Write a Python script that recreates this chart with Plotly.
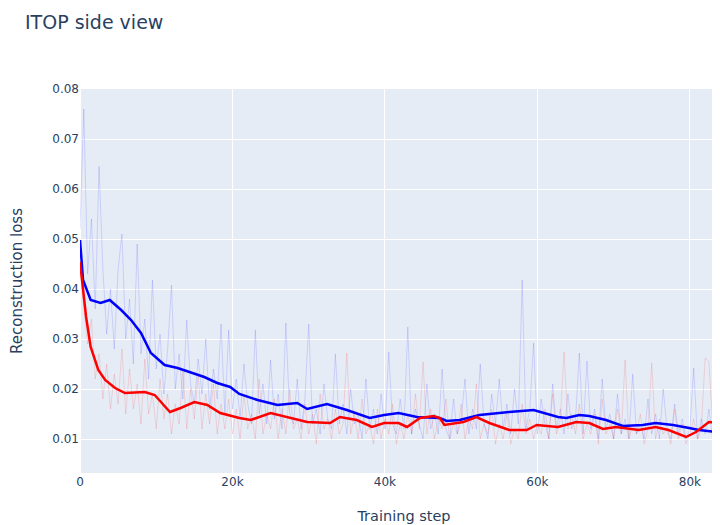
import plotly.graph_objects as go

# ---- raw (unsmoothed) losses, sampled every 500 training steps ----
raw_steps = list(range(0, 84001, 500))

raw_side_a = [  # blue, faint
    0.052, 0.076, 0.043, 0.054, 0.036, 0.0645, 0.044, 0.031, 0.040, 0.028,
    0.044, 0.051, 0.030, 0.038, 0.025, 0.049, 0.027, 0.034, 0.022, 0.0418,
    0.024, 0.031, 0.019, 0.028, 0.0408, 0.020, 0.027, 0.018, 0.0338, 0.021,
    0.017, 0.026, 0.019, 0.030, 0.016, 0.024, 0.018, 0.033, 0.015, 0.0318,
    0.016, 0.022, 0.014, 0.025, 0.017, 0.013, 0.0318, 0.015, 0.021, 0.013,
    0.0258, 0.014, 0.019, 0.012, 0.0332, 0.015, 0.013, 0.022, 0.012, 0.018,
    0.033, 0.013, 0.016, 0.011, 0.021, 0.014, 0.012, 0.027, 0.013, 0.017,
    0.011, 0.020, 0.013, 0.015, 0.010, 0.022, 0.012, 0.016, 0.011, 0.019,
    0.012, 0.0274, 0.013, 0.011, 0.018, 0.012, 0.0324, 0.011, 0.016, 0.013,
    0.010, 0.021, 0.012, 0.015, 0.011, 0.024, 0.012, 0.010, 0.018, 0.011,
    0.014, 0.022, 0.011, 0.016, 0.012, 0.025, 0.013, 0.010, 0.019, 0.013,
    0.022, 0.012, 0.017, 0.011, 0.020, 0.013, 0.0418, 0.012, 0.016, 0.0292,
    0.011, 0.018, 0.013, 0.010, 0.021, 0.012, 0.016, 0.011, 0.019, 0.012,
    0.014, 0.0272, 0.011, 0.0256, 0.012, 0.016, 0.010, 0.022, 0.012, 0.015,
    0.010, 0.019, 0.011, 0.014, 0.010, 0.023, 0.011, 0.013, 0.010, 0.018,
    0.011, 0.015, 0.010, 0.020, 0.012, 0.010, 0.017, 0.011, 0.014, 0.010,
    0.012, 0.0242, 0.010, 0.014, 0.011, 0.016, 0.010, 0.013, 0.011,
]

raw_side_b = [  # red, faint
    0.045, 0.036, 0.029, 0.034, 0.022, 0.027, 0.018, 0.025, 0.016, 0.023,
    0.017, 0.028, 0.015, 0.024, 0.016, 0.021, 0.013, 0.026, 0.015, 0.019,
    0.012, 0.022, 0.014, 0.019, 0.011, 0.017, 0.013, 0.024, 0.012, 0.020,
    0.014, 0.023, 0.012, 0.019, 0.013, 0.021, 0.011, 0.017, 0.012, 0.018,
    0.011, 0.016, 0.010, 0.019, 0.012, 0.015, 0.010, 0.022, 0.011, 0.015,
    0.012, 0.018, 0.010, 0.016, 0.011, 0.020, 0.012, 0.014, 0.010, 0.017,
    0.011, 0.015, 0.009, 0.019, 0.012, 0.014, 0.010, 0.016, 0.011, 0.013,
    0.0272, 0.011, 0.015, 0.010, 0.018, 0.011, 0.013, 0.009, 0.016, 0.010,
    0.014, 0.011, 0.017, 0.009, 0.013, 0.010, 0.015, 0.011, 0.019, 0.012,
    0.0254, 0.011, 0.016, 0.010, 0.014, 0.012, 0.018, 0.010, 0.013, 0.011,
    0.017, 0.010, 0.014, 0.012, 0.021, 0.010, 0.013, 0.011, 0.016, 0.009,
    0.013, 0.010, 0.015, 0.009, 0.012, 0.010, 0.017, 0.011, 0.014, 0.010,
    0.013, 0.011, 0.016, 0.010, 0.019, 0.011, 0.014, 0.0274, 0.012, 0.015,
    0.011, 0.017, 0.010, 0.013, 0.011, 0.015, 0.009, 0.018, 0.011, 0.013,
    0.010, 0.016, 0.011, 0.0258, 0.010, 0.013, 0.011, 0.015, 0.009, 0.012,
    0.0252, 0.010, 0.014, 0.011, 0.012, 0.009, 0.016, 0.010, 0.013, 0.009,
    0.011, 0.014, 0.010, 0.012, 0.0262, 0.0255, 0.012, 0.015, 0.011,
]

# ---- smoothed losses ----
smooth_a_steps = [0, 400, 1400, 2700, 3900, 5400, 6700, 8000, 9300, 11100,
                  12800, 14500, 16300, 18000, 19700, 20900, 23300, 25900, 28500, 29800,
                  32400, 35000, 38000, 39900, 41800, 44200, 47200, 48100, 49800, 52400,
                  54600, 56300, 59500, 61200, 62700, 63800, 65500, 66800, 69000, 71200,
                  73800, 75500, 77800, 79900, 81200, 83600]
smooth_a = [0.0498, 0.0418, 0.0378, 0.0372, 0.0378, 0.0358, 0.0338, 0.0312, 0.0272, 0.0248,
            0.0242, 0.0234, 0.0224, 0.0212, 0.0204, 0.0190, 0.0178, 0.0168, 0.0172, 0.0160,
            0.0170, 0.0158, 0.0142, 0.0148, 0.0152, 0.0144, 0.0142, 0.0136, 0.0138, 0.0148,
            0.0152, 0.0154, 0.0158, 0.0150, 0.0144, 0.0142, 0.0148, 0.0146, 0.0138, 0.0126,
            0.0128, 0.0132, 0.0128, 0.0122, 0.0118, 0.0114]

smooth_b_steps = [0, 400, 800, 1400, 2400, 3300, 4600, 5900, 8500, 9800,
                  11800, 13200, 15000, 16700, 18400, 20900, 22400, 25000, 27200, 29800,
                  32800, 34100, 36300, 38300, 39900, 41800, 42900, 44600, 46400, 47200,
                  47800, 50300, 52000, 53700, 56300, 58600, 59900, 62700, 65100, 66800,
                  68600, 70300, 73300, 75500, 77200, 79500, 80800, 82500, 83700]
smooth_b = [0.0454, 0.0392, 0.0344, 0.0284, 0.0238, 0.0218, 0.0202, 0.0192, 0.0194, 0.0188,
            0.0154, 0.0162, 0.0174, 0.0168, 0.0152, 0.0142, 0.0138, 0.0152, 0.0144, 0.0134,
            0.0132, 0.0144, 0.0138, 0.0124, 0.0132, 0.0132, 0.0124, 0.0142, 0.0146, 0.0142,
            0.0128, 0.0134, 0.0144, 0.0132, 0.0118, 0.0118, 0.0128, 0.0124, 0.0134, 0.0132,
            0.0120, 0.0124, 0.0118, 0.0124, 0.0118, 0.0104, 0.0114, 0.0134, 0.0132]

FONT = "DejaVu Sans, Verdana, sans-serif"

fig = go.Figure()
fig.add_trace(go.Scatter(x=raw_steps, y=raw_side_a, mode="lines",
                         line=dict(color="rgba(0,0,255,0.13)", width=1), showlegend=False))
fig.add_trace(go.Scatter(x=raw_steps, y=raw_side_b, mode="lines",
                         line=dict(color="rgba(255,0,0,0.13)", width=1), showlegend=False))
fig.add_trace(go.Scatter(x=smooth_a_steps, y=smooth_a, mode="lines",
                         line=dict(color="blue", width=2.5), showlegend=False))
fig.add_trace(go.Scatter(x=smooth_b_steps, y=smooth_b, mode="lines",
                         line=dict(color="red", width=2.5), showlegend=False))

fig.update_layout(
    template="plotly",
    width=720, height=525,
    font=dict(family=FONT, size=12),
    margin=dict(l=72, r=0, t=81, b=60),
    title=dict(text="ITOP side view", x=0.0236, xanchor="left", y=0.973, yanchor="middle",
               font=dict(family=FONT, size=19)),
    xaxis=dict(title=dict(text="Training step", font=dict(size=14.5), standoff=22),
               range=[0, 85000], dtick=20000, tick0=0),
    yaxis=dict(title=dict(text="Reconstruction loss", font=dict(size=15), standoff=27),
               range=[0.0032, 0.08], dtick=0.01, tick0=0, tickformat=".2f"),
)

fig.write_html("out.html")
